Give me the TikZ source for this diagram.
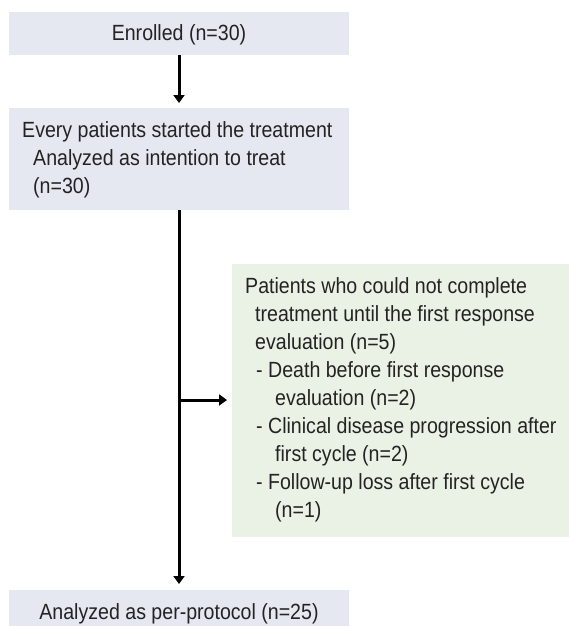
\documentclass[tikz,border=0pt]{standalone}
\usepackage{fontspec}
\setmainfont{Liberation Sans}[FakeStretch=0.89]
\usetikzlibrary{arrows.meta}
\definecolor{boxblue}{RGB}{230,232,241}
\definecolor{boxgreen}{RGB}{234,242,230}
\definecolor{txt}{RGB}{35,35,35}
\begin{document}
\begin{tikzpicture}[x=1pt,y=-1pt,
  box/.style={draw=none, inner sep=0pt, outer sep=0pt},
  tline/.style={anchor=base west, inner sep=0pt, text=txt, font=\fontsize{22}{28}\selectfont},
  cline/.style={anchor=base, inner sep=0pt, text=txt, font=\fontsize{22}{28}\selectfont},
  conn/.style={line width=3pt, -{Triangle[width=11pt,length=8pt]}}]
\useasboundingbox (0,0) rectangle (569,626);
% boxes
\node[box, fill=boxblue, minimum width=340pt, minimum height=43pt] (b1) at (179,33.5) {};
\node[box, fill=boxblue, minimum width=340pt, minimum height=102pt] (b2) at (179,159) {};
\node[box, fill=boxgreen, minimum width=337pt, minimum height=273pt] (b3) at (400.5,400.5) {};
\node[box, fill=boxblue, minimum width=340pt, minimum height=36pt] (b4) at (179,608) {};
% texts
\node[cline] (t1) at (179,41) {Enrolled (n=30)};
\node[tline] (t2a) at (22,137) {Every patients started the treatment};
\node[tline] (t2b) at (33,165) {Analyzed as intention to treat};
\node[tline] (t2c) at (33,193) {(n=30)};
\node[tline] (t3a) at (245,293) {Patients who could not complete};
\node[tline] (t3b) at (255,321) {treatment until the first response};
\node[tline] (t3c) at (255,349) {evaluation (n=5)};
\node[tline] (t3d) at (256,377) {- Death before first response};
\node[tline] (t3e) at (275,405) {evaluation (n=2)};
\node[tline] (t3f) at (256,433) {- Clinical disease progression after};
\node[tline] (t3g) at (275,461) {first cycle (n=2)};
\node[tline] (t3h) at (256,489) {- Follow-up loss after first cycle};
\node[tline] (t3i) at (275,517) {(n=1)};
\node[cline] (t4) at (179,619) {Analyzed as per-protocol (n=25)};
% connectors
\draw[conn, shorten >=5pt] (b1.south) -- (b2.north);
\draw[conn, shorten >=6pt] (b2.south) -- (b4.north);
\coordinate (br) at (179,400);
\draw[conn, shorten >=5pt] (br) -- (br -| b3.west);
\end{tikzpicture}
\end{document}
